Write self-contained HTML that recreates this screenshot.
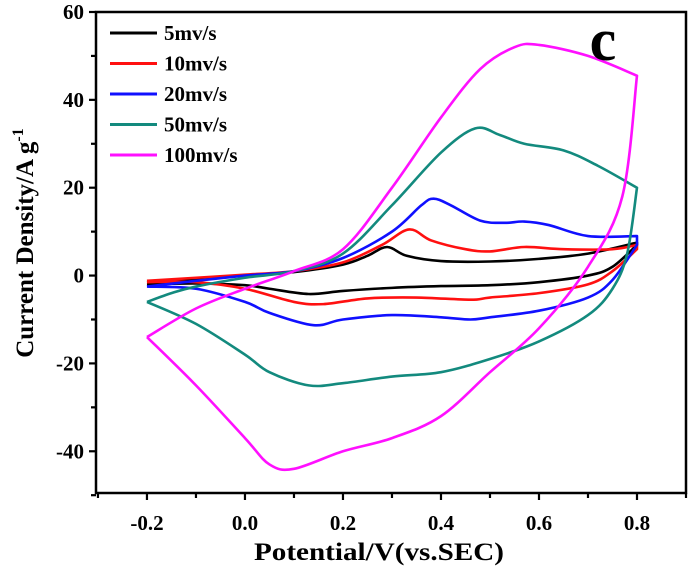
<!DOCTYPE html>
<html><head><meta charset="utf-8"><style>
body{margin:0;background:#fff}
svg text{font-family:"Liberation Serif",serif;font-weight:bold}
</style></head><body>
<svg id="chart" width="689" height="577" viewBox="0 0 689 577" xmlns="http://www.w3.org/2000/svg" style="position:absolute;left:0;top:0"></svg>
<script>
const seriesNames = ["5mv/s","10mv/s","20mv/s","50mv/s","100mv/s"];
const seriesColors = ["#000000","#ff1010","#1010ff","#138a7e","#ff10ff"];
const xTicks = [-0.2,0.0,0.2,0.4,0.6,0.8];
const xTickLabels = ["-0.2","0.0","0.2","0.4","0.6","0.8"];
const yTicks = [-40,-20,0,20,40,60];
const yTickLabels = ["-40","-20","0","20","40","60"];
// anodic sweep (forward) and cathodic sweep (return)
const v5f = [-0.2,-0.1,0,0.1,0.2,0.25,0.29,0.33,0.4,0.5,0.6,0.7,0.8];
const i5f = [-1.5,-0.8,0,0.8,2.5,4.5,6.5,4.5,3.3,3.2,3.8,5,7.5];
const v5r = [0.8,0.75,0.7,0.6,0.5,0.4,0.3,0.2,0.13,0.05,0,-0.1,-0.2];
const i5r = [7,2,0,-1.5,-2.2,-2.4,-2.8,-3.5,-4.2,-3,-2.2,-1.8,-2];
const v10f = [-0.2,-0.1,0,0.1,0.2,0.28,0.335,0.38,0.45,0.5,0.57,0.65,0.75,0.8];
const i10f = [-1.2,-0.5,0.2,1,3,7,10.5,8,6,5.5,6.5,6,6,7];
const v10r = [0.8,0.75,0.7,0.6,0.5,0.46,0.35,0.25,0.16,0.1,0,-0.1,-0.2];
const i10r = [6,1,-2,-4,-5,-5.5,-5,-5.2,-6.5,-6,-3,-1.5,-1.5];
const v20f = [-0.2,-0.1,0,0.1,0.2,0.3,0.36,0.385,0.42,0.48,0.53,0.57,0.62,0.7,0.8];
const i20f = [-2.5,-1.2,0,1,4,10,16,17.5,16,12.5,12,12.3,11.5,9,9];
const v20r = [0.8,0.75,0.7,0.6,0.5,0.46,0.4,0.3,0.2,0.14,0.05,0,-0.1,-0.2];
const i20r = [7,-1,-5,-8,-9.5,-10,-9.5,-9,-10,-11.3,-8.5,-6,-3,-2.5];
const v50f = [-0.2,-0.15,-0.1,0,0.1,0.2,0.3,0.4,0.47,0.52,0.57,0.65,0.72,0.8];
const i50f = [-6,-4,-2.5,-0.5,1,5,16,28,33.5,32,30,28.5,25,20];
const v50r = [0.8,0.78,0.75,0.7,0.6,0.5,0.4,0.3,0.2,0.13,0.05,0,-0.1,-0.2];
const i50r = [20,5,-3,-9,-15,-19,-22,-23,-24.5,-25,-22,-18,-11,-6];
const v100f = [-0.2,-0.1,0,0.1,0.2,0.3,0.4,0.48,0.55,0.6,0.7,0.8];
const i100f = [-14,-7.5,-3,1,6,20,36,47,52,52.5,50,45.5];
const v100r = [0.8,0.77,0.7,0.6,0.5,0.4,0.3,0.2,0.1,0.05,0,-0.1,-0.2];
const i100r = [45.5,18,2,-12,-22,-32,-37,-40,-44,-43,-37,-25,-14];
const seriesVF = [v5f,v10f,v20f,v50f,v100f];
const seriesIF = [i5f,i10f,i20f,i50f,i100f];
const seriesVR = [v5r,v10r,v20r,v50r,v100r];
const seriesIR = [i5r,i10r,i20r,i50r,i100r];

const NS="http://www.w3.org/2000/svg";
const svg=document.getElementById('chart');
const L=96,R=686,T=12,B=493;
const xMin=-0.304,xMax=0.9,yMin=-49.5,yMax=60;
const sx=v=>L+(v-xMin)/(xMax-xMin)*(R-L);
const sy=v=>B-(v-yMin)/(yMax-yMin)*(B-T);
function mk(tag,attrs,parent){const e=document.createElementNS(NS,tag);for(const k in attrs)e.setAttribute(k,attrs[k]);(parent||svg).appendChild(e);return e;}
function smooth(pts,move){
  let d=(move?'M':'L')+`${pts[0][0]},${pts[0][1]}`;
  for(let i=0;i<pts.length-1;i++){
    const p0=pts[i-1]||pts[i],p1=pts[i],p2=pts[i+1],p3=pts[i+2]||p2;
    const t=1/6;
    d+=` C${p1[0]+(p2[0]-p0[0])*t},${p1[1]+(p2[1]-p0[1])*t} ${p2[0]-(p3[0]-p1[0])*t},${p2[1]-(p3[1]-p1[1])*t} ${p2[0]},${p2[1]}`;
  }
  return d;
}
seriesVF.forEach((vs,s)=>{
  const pf=vs.map((v,i)=>[sx(v),sy(seriesIF[s][i])]);
  const pr=seriesVR[s].map((v,i)=>[sx(v),sy(seriesIR[s][i])]);
  const p=mk('path',{d:smooth(pf,true)+' '+smooth(pr,false),fill:'none',stroke:seriesColors[s],'stroke-width':2.6,'stroke-linejoin':'round'});
  
  
});
const box=mk('rect',{x:L,y:T,width:R-L,height:B-T,fill:'none',stroke:'#000','stroke-width':2.5});


for(let k=-3;k<=9;k++){
  const v=k/10,x=sx(v),major=(k%2===0);
  mk('line',{x1:x,x2:x,y1:B,y2:B+(major?7:5),stroke:'#000','stroke-width':2.2});
}
xTicks.forEach((v,i)=>{
  const t=mk('text',{x:sx(v),y:B+37,'text-anchor':'middle','font-size':21});
  t.textContent=xTickLabels[i];
  
  
});
for(let k=-5;k<=6;k++){
  const v=k*10,y=sy(v),major=(k%2===0);
  mk('line',{x1:L,x2:L-(major?7:5),y1:y,y2:y,stroke:'#000','stroke-width':2.2});
}
yTicks.forEach((v,i)=>{
  const t=mk('text',{x:L-12,y:sy(v)+7,'text-anchor':'end','font-size':21});
  t.textContent=yTickLabels[i];
  
  
});
seriesNames.forEach((n,i)=>{
  const y=33+i*30.5;
  const g=mk('g',{});
  
  
  mk('line',{x1:110,x2:157,y1:y,y2:y,stroke:seriesColors[i],'stroke-width':3},g);
  const t=mk('text',{x:164,y:y+7,'font-size':21},g);
  t.textContent=n;
});
</script>
<svg width="689" height="577" style="position:absolute;left:0;top:0;pointer-events:none">
<text x="603" y="60" text-anchor="middle" font-size="60" font-family="Liberation Serif, serif" font-weight="bold">c</text>
<text x="379" y="560" text-anchor="middle" font-size="25" textLength="250" lengthAdjust="spacingAndGlyphs" font-family="Liberation Serif, serif" font-weight="bold">Potential/V(vs.SEC)</text>
<text transform="translate(33,243) rotate(-90)" text-anchor="middle" font-size="25" font-family="Liberation Serif, serif" font-weight="bold">Current Density/A g<tspan dy="-10" font-size="16">-1</tspan></text>
</svg>
</body></html>
